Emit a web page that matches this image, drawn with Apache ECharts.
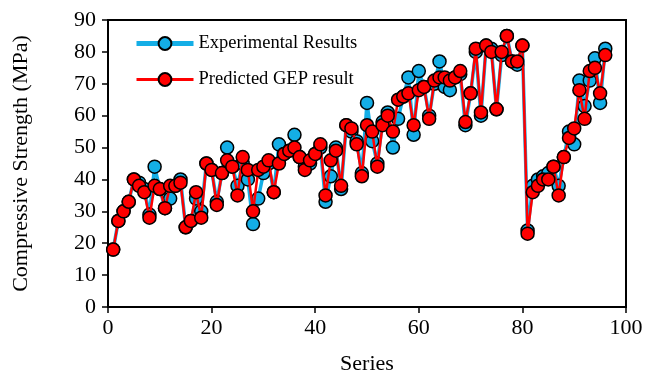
<!DOCTYPE html>
<html>
<head>
<meta charset="utf-8">
<script src="https://cdn.jsdelivr.net/npm/echarts@6/dist/echarts.min.js"></script>
<style>
  html, body { margin: 0; padding: 0; background: #fff; }
  #chart { width: 646px; height: 380px; }
</style>
</head>
<body>
<div id="chart"></div>
<script>
// values, sample 1..96
const experimental = [
  18, 27, 30, 33, 40, 39, 37, 29, 44, 37,
  31, 34, 38, 40, 25, 27, 34, 30, 45, 43,
  33, 42, 50, 44, 38, 45, 40, 26, 34, 42,
  45, 36, 51, 48, 49, 54, 47, 44, 45, 48,
  50, 33, 41, 50, 37, 57, 55, 52, 42, 64,
  52, 45, 58, 61, 50, 59, 66, 72, 54, 74,
  69, 60, 70, 77, 69, 68, 72, 73, 57, 67,
  80, 60, 82, 81, 62, 79, 85, 77, 76, 82,
  24, 38, 40, 41, 42, 44, 38, 47, 55, 51,
  71, 63, 71, 78, 64, 81
];
const predicted = [
  18, 27, 30, 33, 40, 38, 36, 28, 38, 37,
  31, 38, 38, 39, 25, 27, 36, 28, 45, 43,
  32, 42, 46, 44, 35, 47, 43, 30, 43, 44,
  46, 36, 45, 48, 49, 50, 47, 43, 46, 48,
  51, 35, 46, 49, 38, 57, 56, 51, 41, 57,
  55, 44, 57, 60, 55, 65, 66, 67, 57, 68,
  69, 59, 71, 72, 72, 71, 72, 74, 58, 67,
  81, 61, 82, 80, 62, 80, 85, 77, 77, 82,
  23, 36, 38, 40, 40, 44, 35, 47, 53, 56,
  68, 59, 74, 75, 67, 79
];
const xTicks = [0, 20, 40, 60, 80, 100];

const FONT = "'Liberation Serif', 'Times New Roman', serif";
const BLUE = "#14AEE6";
const RED = "#FF0000";

const chart = echarts.init(document.getElementById("chart"));

const toPoints = (arr) => arr.map((v, i) => [i + 1, v]);

const option = {
  animation: false,
  textStyle: { fontFamily: FONT, color: "#000" },
  grid: {
    left: 108,
    right: 20,
    top: 20,
    bottom: 70,
    show: true,
    borderColor: "#000",
    borderWidth: 2,
    backgroundColor: "transparent",
  },
  legend: {
    orient: "vertical",
    left: 129,
    top: 29,
    itemWidth: 57,
    itemHeight: 16,
    itemGap: 17,
    textStyle: { fontFamily: FONT, fontSize: 18.5, color: "#000" },
    data: [
      { name: "Experimental Results", lineStyle: { width: 5, color: BLUE } },
      { name: "Predicted GEP result", lineStyle: { width: 3, color: RED } },
    ],
  },
  xAxis: {
    type: "value",
    min: xTicks[0],
    max: xTicks[xTicks.length - 1],
    interval: 20,
    name: "Series",
    nameLocation: "middle",
    nameGap: 46,
    nameTextStyle: { fontFamily: FONT, fontSize: 22, color: "#000" },
    axisLine: { show: true, lineStyle: { color: "#000", width: 2 } },
    axisTick: { show: true, inside: false, length: 6, lineStyle: { color: "#000", width: 1.5 } },
    axisLabel: { fontFamily: FONT, fontSize: 22, color: "#000", margin: 10 },
    splitLine: { show: false },
  },
  yAxis: {
    type: "value",
    min: 0,
    max: 90,
    interval: 10,
    name: "Compressive Strength (MPa)",
    nameLocation: "middle",
    nameGap: 76,
    nameTextStyle: { fontFamily: FONT, fontSize: 22, color: "#000" },
    axisLine: { show: true, lineStyle: { color: "#000", width: 2 } },
    axisTick: { show: true, inside: false, length: 6, lineStyle: { color: "#000", width: 1.5 } },
    axisLabel: { fontFamily: FONT, fontSize: 22, color: "#000", margin: 12 },
    splitLine: { show: false },
  },
  series: [
    {
      name: "Experimental Results",
      type: "line",
      data: toPoints(experimental),
      symbol: "circle",
      symbolSize: 13,
      color: BLUE,
      lineStyle: { color: BLUE, width: 3.5 },
      itemStyle: { color: BLUE, borderColor: "#000", borderWidth: 1.5 },
      z: 2,
    },
    {
      name: "Predicted GEP result",
      type: "line",
      data: toPoints(predicted),
      symbol: "circle",
      symbolSize: 13,
      color: RED,
      lineStyle: { color: RED, width: 2.5 },
      itemStyle: { color: RED, borderColor: "#000", borderWidth: 1.5 },
      z: 3,
    },
  ],
};

chart.setOption(option);
</script>
</body>
</html>
